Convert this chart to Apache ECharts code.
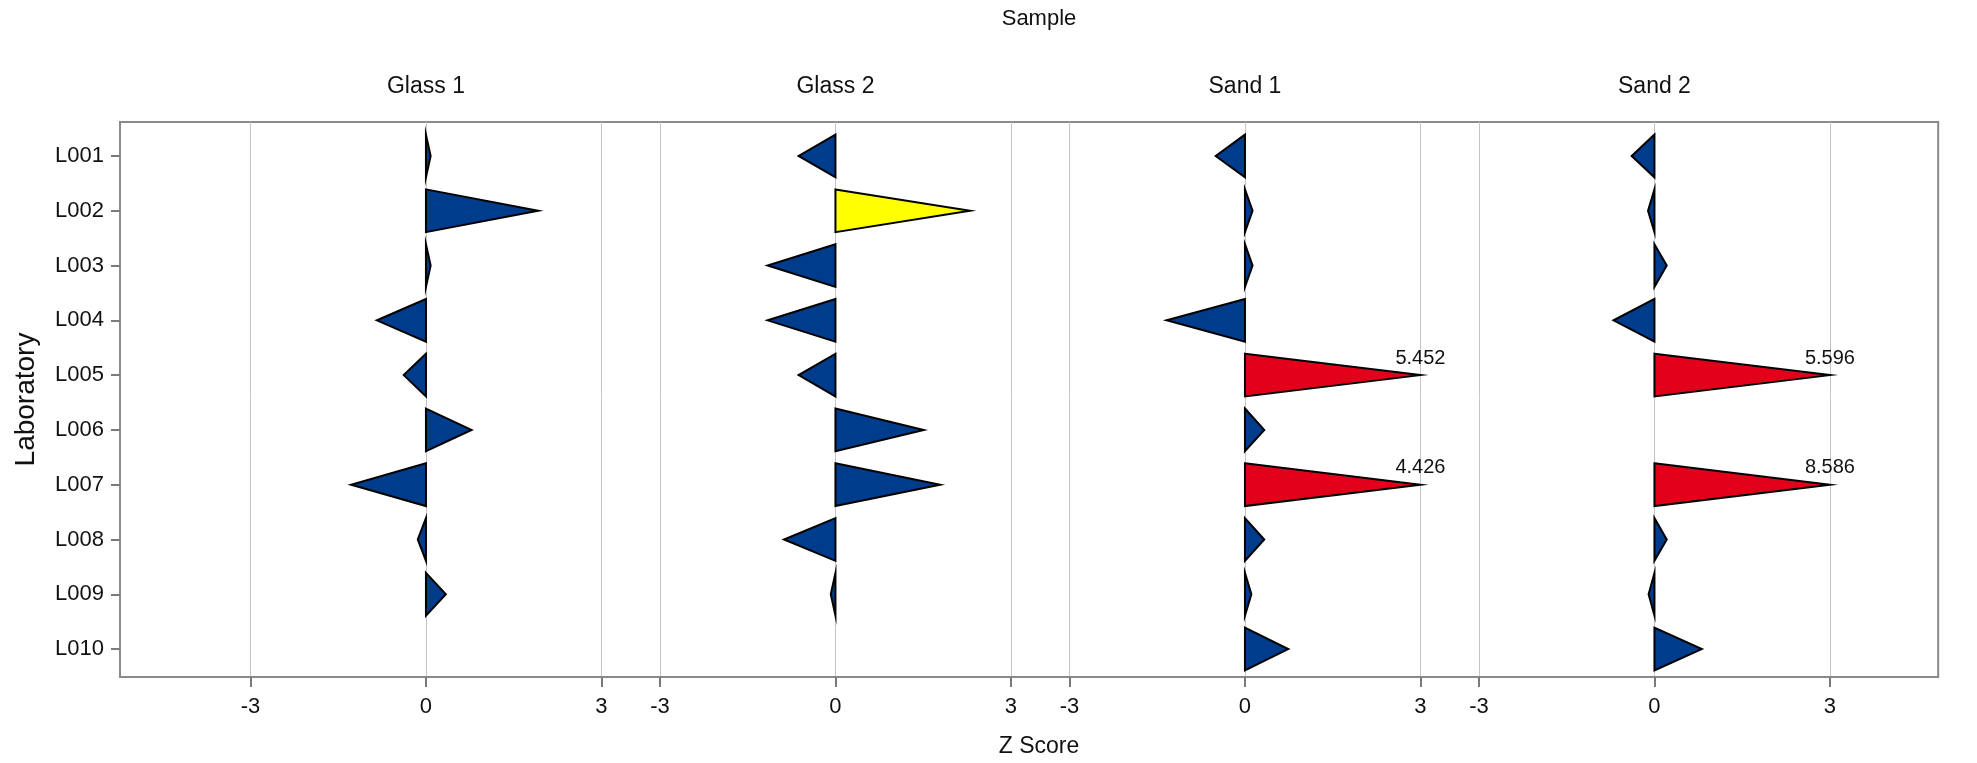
<!DOCTYPE html>
<html>
<head>
<meta charset="utf-8">
<title>Z Score by Laboratory</title>
<script src="https://cdn.jsdelivr.net/npm/echarts@6/dist/echarts.min.js"></script>
<style>
  html, body { margin: 0; padding: 0; background: #fff; }
  #chart { width: 1977px; height: 763px; }
</style>
</head>
<body>
<div id="chart"></div>
<script>
// laboratories, top to bottom
const labs = ['L001', 'L002', 'L003', 'L004', 'L005', 'L006', 'L007', 'L008', 'L009', 'L010'];
const samples = ['Glass 1', 'Glass 2', 'Sand 1', 'Sand 2'];

// z scores per sample (null = no result)
const glass1 = [0.08, 1.92, 0.08, -0.84, -0.38, 0.78, -1.28, -0.14, 0.34, null];
const glass2 = [-0.63, 2.30, -1.16, -1.16, -0.63, 1.51, 1.79, -0.88, -0.08, null];
const sand1 = [-0.50, 0.13, 0.13, -1.34, 5.452, 0.33, 4.426, 0.33, 0.11, 0.74];
const sand2 = [-0.39, -0.11, 0.21, -0.70, 5.596, null, 8.586, 0.21, -0.10, 0.81];

const zTicks = [-3, 0, 3];
const zLimit = 3;    // past this the triangle is clipped and the value written
const warnLimit = 2; // questionable

const scores = [glass1, glass2, sand1, sand2];
const rows = labs.map((_, i) => i + 1);

// layout
const plotLeft = 120, plotTop = 122, plotHeight = 555;
const pxPerZ = 58.5;
const panelRanges = [[-5.23, 3.5], [-3.5, 3.5], [-3.5, 3.5], [-3.5, 4.85]];
const rowRange = [0.38, 10.51];
const halfTri = 0.39;

const font = "'Liberation Sans', Arial, sans-serif";
const textColor = '#111';
const frameColor = '#8a8a8a';
const tickColor = '#7a7a7a';

const colorFor = (z) => {
  const a = Math.abs(z);
  if (a > zLimit) return '#e2001a';
  if (a > warnLimit) return '#ffff00';
  return '#003c8c';
};

function drawTriangle(params, api) {
  const z = api.value(0);
  const row = api.value(1);
  const tipZ = Math.max(-zLimit, Math.min(zLimit, z));
  const top = api.coord([0, row - halfTri]);
  const bot = api.coord([0, row + halfTri]);
  const tip = api.coord([tipZ, row]);
  const children = [{
    type: 'polygon',
    shape: { points: [top, tip, bot] },
    style: { fill: colorFor(z), stroke: '#000', lineWidth: 2, lineJoin: 'miter' }
  }];
  if (Math.abs(z) > zLimit) {
    children.push({
      type: 'text',
      x: tip[0],
      y: tip[1] - 7,
      style: {
        text: z.toFixed(3),
        fill: textColor,
        fontFamily: font,
        fontSize: 20,
        align: 'center',
        verticalAlign: 'bottom'
      }
    });
  }
  return { type: 'group', children: children };
}

const grids = [], xAxes = [], yAxes = [], series = [], graphics = [];
let x0 = plotLeft;
panelRanges.forEach((r, k) => {
  const w = (r[1] - r[0]) * pxPerZ;
  grids.push({ left: x0, top: plotTop, width: w, height: plotHeight, show: false });
  xAxes.push({
    type: 'value',
    gridIndex: k,
    position: 'bottom',
    min: r[0],
    max: r[1],
    axisLine: { show: true, onZero: false, lineStyle: { color: frameColor, width: 2 } },
    axisTick: { show: true, inside: false, customValues: zTicks, length: 10, lineStyle: { color: tickColor, width: 2 } },
    axisLabel: { customValues: zTicks, margin: 19, fontFamily: font, fontSize: 22, color: textColor },
    splitLine: { show: true, lineStyle: { color: '#c4c4c4', width: 1 } }
  });
  yAxes.push({
    type: 'value',
    gridIndex: k,
    position: 'left',
    inverse: true,
    min: rowRange[0],
    max: rowRange[1],
    show: k === 0,
    name: k === 0 ? 'Laboratory' : '',
    nameLocation: 'middle',
    nameGap: 80,
    nameTextStyle: { fontFamily: font, fontSize: 28, color: textColor },
    axisLine: { show: true, onZero: false, lineStyle: { color: frameColor, width: 2 } },
    axisTick: { show: true, inside: false, customValues: rows, length: 9, lineStyle: { color: tickColor, width: 2 } },
    axisLabel: {
      customValues: rows,
      margin: 16,
      fontFamily: font,
      fontSize: 22,
      color: textColor,
      formatter: (v) => labs[Math.round(v) - 1]
    },
    splitLine: { show: false }
  });
  series.push({
    type: 'custom',
    name: samples[k],
    xAxisIndex: k,
    yAxisIndex: k,
    renderItem: drawTriangle,
    encode: { x: 0, y: 1 },
    data: scores[k].map((z, i) => (z === null ? null : [z, rows[i]])).filter((d) => d)
  });
  graphics.push({
    type: 'text',
    x: x0 + (0 - r[0]) * pxPerZ,
    y: 87,
    style: { text: samples[k], fill: textColor, fontFamily: font, fontSize: 23, align: 'center', verticalAlign: 'middle' }
  });
  x0 += w;
});

// outer frame
grids.push({
  left: plotLeft, top: plotTop, width: x0 - plotLeft, height: plotHeight,
  show: true, borderColor: frameColor, borderWidth: 2, backgroundColor: 'transparent'
});
xAxes.push({ type: 'value', gridIndex: 4, min: 0, max: 1, show: false });
yAxes.push({ type: 'value', gridIndex: 4, min: 0, max: 1, show: false });

graphics.push({
  type: 'text', x: 1039, y: 19,
  style: { text: 'Sample', fill: textColor, fontFamily: font, fontSize: 22, align: 'center', verticalAlign: 'middle' }
});
graphics.push({
  type: 'text', x: 1039, y: 747,
  style: { text: 'Z Score', fill: textColor, fontFamily: font, fontSize: 23, align: 'center', verticalAlign: 'middle' }
});

const myChart = echarts.init(document.getElementById('chart'));
myChart.setOption({
  animation: false,
  backgroundColor: '#fff',
  grid: grids,
  xAxis: xAxes,
  yAxis: yAxes,
  series: series,
  graphic: graphics
});
</script>
</body>
</html>
